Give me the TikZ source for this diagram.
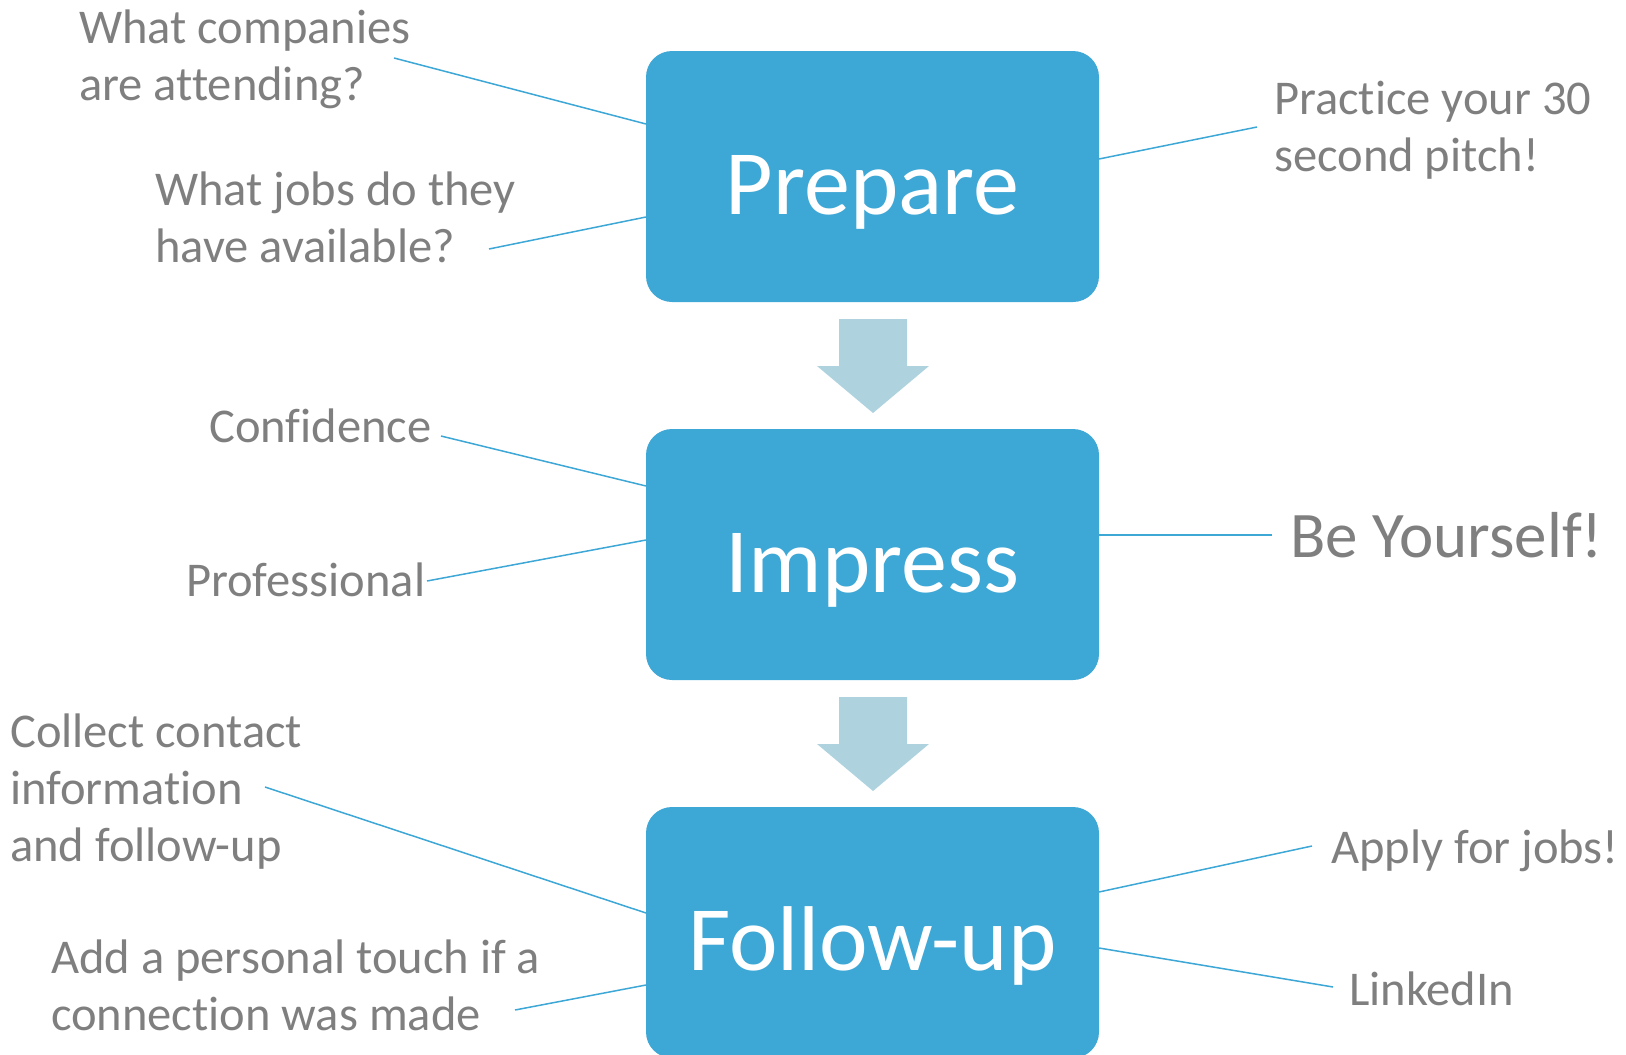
\documentclass[tikz,border=0pt]{standalone}
\usepackage{fontspec}
\setmainfont[Ligatures=NoCommon]{Carlito}
\definecolor{boxblue}{RGB}{61,167,214}
\definecolor{arrowblue}{RGB}{174,211,223}
\definecolor{labelgray}{RGB}{127,127,127}
\newcommand{\lines}[1]{\begin{tabular}[t]{@{}l@{}}#1\end{tabular}}
\begin{document}
\begin{tikzpicture}[x=1pt,y=-1pt,
  stagebox/.style={rectangle, rounded corners=26pt, fill=boxblue, minimum width=453pt,
    minimum height=251pt, inner sep=0pt, text=white, font=\fontsize{92}{110}\selectfont,
    text height=76pt, text depth=0pt},
  lbl/.style={anchor=base west, inner sep=0pt, text=labelgray, font=\fontsize{48.5}{57}\selectfont},
  conn/.style={draw=boxblue, line width=1.5pt},
  flow/.style={fill=arrowblue}]
\useasboundingbox (0,0) rectangle (1626,1055);
\clip (0,0) rectangle (1626,1055);

% stage boxes
\node[stagebox] (prep) at (872.5,176.5) {Prepare};
\node[stagebox] (imp)  at (872.5,554.5) {Impress};
\node[stagebox] (fol)  at (872.5,932.5) {Follow-up};

% flow arrows
\fill[flow] (839,319) -- (907,319) -- (907,366) -- (929,366) -- (873,413) -- (817,366) -- (839,366) -- cycle;
\fill[flow] (839,697) -- (907,697) -- (907,744) -- (929,744) -- (873,791) -- (817,744) -- (839,744) -- cycle;

% labels
\node[lbl] (wc) at (79,43) {\lines{What companies\\are attending?}};
\node[lbl] (wj) at (155,205) {\lines{What jobs do they\\have available?}};
\node[lbl] (pp) at (1274,114) {\lines{Practice your 30\\second pitch!}};
\node[lbl] (conf) at (209,442) {Confidence};
\node[lbl] (prof) at (186,596) {Professional};
\node[lbl, font=\fontsize{65}{78}\selectfont] (bey) at (1290,557) {Be Yourself!};
\node[lbl] (coll) at (10,747) {\lines{Collect contact\\information\\and follow-up}};
\node[lbl] (add) at (51,973) {\lines{Add a personal touch if a\\connection was made}};
\node[lbl] (apply) at (1331,863) {Apply for jobs!};
\node[lbl] (li) at (1349,1005) {LinkedIn};

% connector end points
\coordinate (wcE) at (394,58);   \coordinate (wcB) at (646,124);
\coordinate (wjE) at (489,249);  \coordinate (wjB) at (646,217);
\coordinate (ppE) at (1257,127); \coordinate (ppB) at (1099,159);
\coordinate (cfE) at (441,436);  \coordinate (cfB) at (646,486);
\coordinate (prE) at (427,581);  \coordinate (prB) at (646,540);
\coordinate (byE) at (1272,535); \coordinate (byB) at (1099,535);
\coordinate (coE) at (265,787);  \coordinate (coB) at (646,913);
\coordinate (adE) at (515,1010); \coordinate (adB) at (646,985);
\coordinate (apE) at (1312,846); \coordinate (apB) at (1099,892);
\coordinate (liE) at (1333,987); \coordinate (liB) at (1099,948);

\draw[conn] (wcE) -- (wcB);
\draw[conn] (wjE) -- (wjB);
\draw[conn] (ppE) -- (ppB);
\draw[conn] (cfE) -- (cfB);
\draw[conn] (prE) -- (prB);
\draw[conn] (byE) -- (byB);
\draw[conn] (coE) -- (coB);
\draw[conn] (adE) -- (adB);
\draw[conn] (apE) -- (apB);
\draw[conn] (liE) -- (liB);
\end{tikzpicture}
\end{document}
